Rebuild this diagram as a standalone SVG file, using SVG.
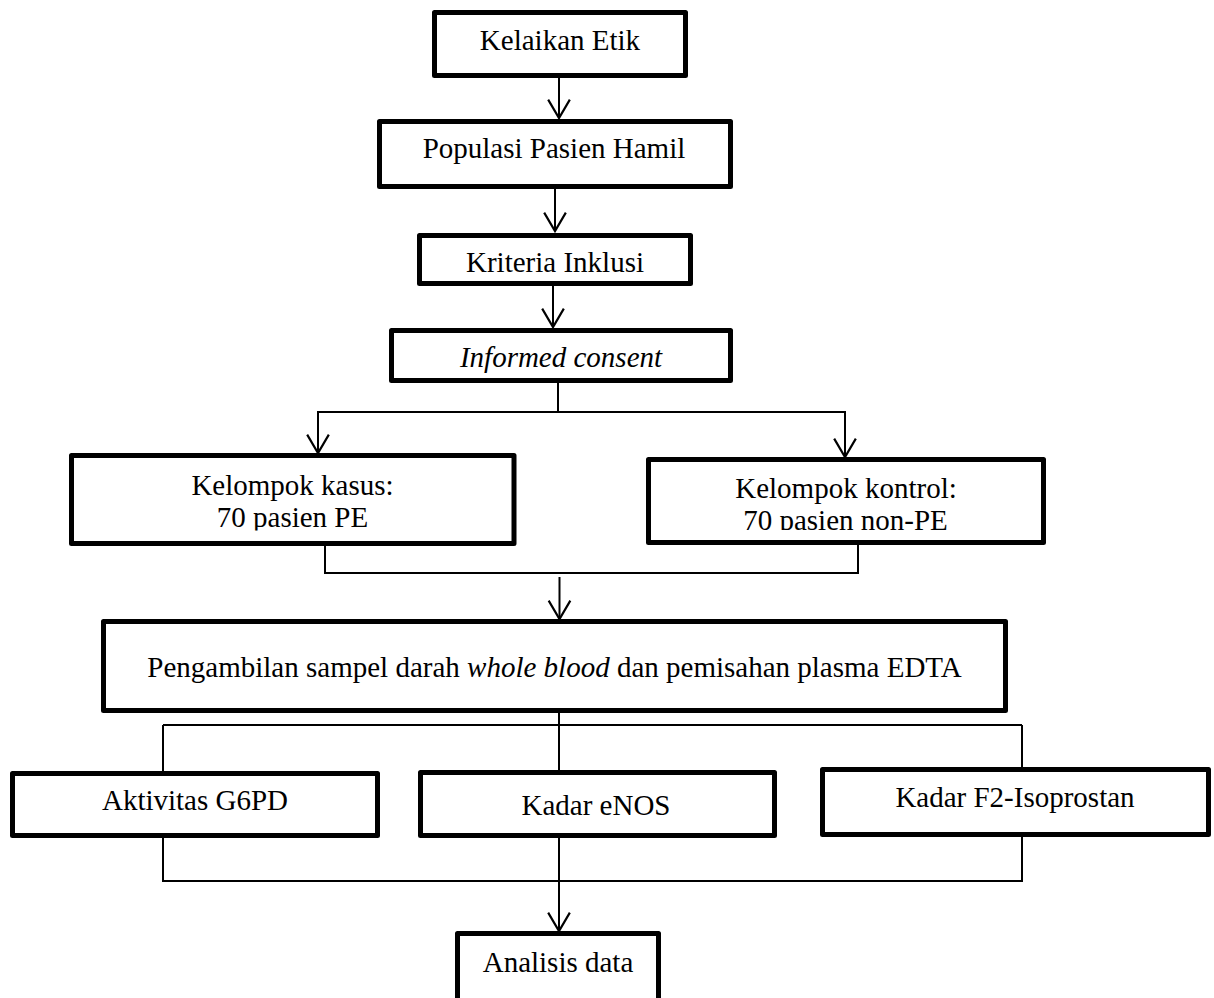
<svg xmlns="http://www.w3.org/2000/svg" width="1214" height="998" viewBox="0 0 1214 998">
  <style>
    .box { fill: #ffffff; stroke: #000000; stroke-width: 5; stroke-linejoin: round; }
    .lbl { font-family: "Liberation Serif", "Times New Roman", serif; font-size: 29px; fill: #000000; text-anchor: middle; }
    .conn { fill: none; stroke: #000000; stroke-width: 2; }
  </style>
  <defs>
    <marker id="arrow" markerUnits="userSpaceOnUse" markerWidth="24" markerHeight="26" viewBox="-20 -12 22 24" refX="0" refY="0" orient="auto" overflow="visible">
      <path d="M -17 -10 L 0 0 L -17 10" fill="none" stroke="#000000" stroke-width="2"/>
    </marker>
    <clipPath id="clipKasus"><rect x="70" y="455" width="446" height="75.5"/></clipPath>
    <clipPath id="clipKontrol"><rect x="646" y="459" width="400" height="71"/></clipPath>
  </defs>
  <rect width="1214" height="998" fill="#ffffff"/>

  <g id="connectors">
    <line class="conn" x1="559" y1="78" x2="559" y2="118" marker-end="url(#arrow)"/>
    <line class="conn" x1="555" y1="189" x2="555" y2="231" marker-end="url(#arrow)"/>
    <line class="conn" x1="553" y1="286" x2="553" y2="327" marker-end="url(#arrow)"/>
    <line class="conn" x1="558" y1="382" x2="558" y2="412"/>
    <line class="conn" x1="317" y1="412" x2="846" y2="412"/>
    <line class="conn" x1="318" y1="412" x2="318" y2="453" marker-end="url(#arrow)"/>
    <line class="conn" x1="845" y1="412" x2="845" y2="457" marker-end="url(#arrow)"/>
    <polyline class="conn" points="325,546 325,573 858,573 858,545"/>
    <line class="conn" x1="559.5" y1="577" x2="559.5" y2="619" marker-end="url(#arrow)"/>
    <line class="conn" x1="559" y1="713" x2="559" y2="770"/>
    <line class="conn" x1="163" y1="725" x2="1022" y2="725"/>
    <line class="conn" x1="163" y1="725" x2="163" y2="771"/>
    <line class="conn" x1="1022" y1="725" x2="1022" y2="767"/>
    <polyline class="conn" points="163,838 163,881 1022,881 1022,837"/>
    <line class="conn" x1="559" y1="837" x2="559" y2="931" marker-end="url(#arrow)"/>
  </g>

  <g id="node-kelaikan">
    <rect class="box" x="434.5" y="12.5" width="251" height="63"/>
    <text class="lbl" x="560" y="50">Kelaikan Etik</text>
  </g>
  <g id="node-populasi">
    <rect class="box" x="379.5" y="121.5" width="351" height="65"/>
    <text class="lbl" x="554" y="158">Populasi Pasien Hamil</text>
  </g>
  <g id="node-kriteria">
    <rect class="box" x="419.5" y="235.5" width="271" height="48"/>
    <text class="lbl" x="555" y="272">Kriteria Inklusi</text>
  </g>
  <g id="node-informed">
    <rect class="box" x="391.5" y="330.5" width="339" height="50"/>
    <text class="lbl" x="561" y="367" font-style="italic">Informed consent</text>
  </g>
  <g id="node-kasus">
    <rect class="box" x="71.5" y="455.5" width="442.5" height="88"/>
    <g clip-path="url(#clipKasus)">
      <text class="lbl" x="292.5" y="495">Kelompok kasus:</text>
      <text class="lbl" x="292.5" y="527">70 pasien PE</text>
    </g>
  </g>
  <g id="node-kontrol">
    <rect class="box" x="648.5" y="459.5" width="395" height="83"/>
    <g clip-path="url(#clipKontrol)">
      <text class="lbl" x="846" y="498">Kelompok kontrol:</text>
      <text class="lbl" x="845.5" y="530">70 pasien non-PE</text>
    </g>
  </g>
  <g id="node-pengambilan">
    <rect class="box" x="103.5" y="621.5" width="902" height="89"/>
    <text class="lbl" x="554.5" y="677">Pengambilan sampel darah <tspan font-style="italic">whole blood</tspan> dan pemisahan plasma EDTA</text>
  </g>
  <g id="node-g6pd">
    <rect class="box" x="12.5" y="773.5" width="365" height="62"/>
    <text class="lbl" x="195" y="810">Aktivitas G6PD</text>
  </g>
  <g id="node-enos">
    <rect class="box" x="420.5" y="772.5" width="354" height="63"/>
    <text class="lbl" x="596" y="815">Kadar eNOS</text>
  </g>
  <g id="node-f2">
    <rect class="box" x="822.5" y="769.5" width="386" height="65"/>
    <text class="lbl" x="1015" y="807">Kadar F2-Isoprostan</text>
  </g>
  <g id="node-analisis">
    <rect class="box" x="457.5" y="933.5" width="201" height="80"/>
    <text class="lbl" x="558" y="972">Analisis data</text>
  </g>
</svg>
